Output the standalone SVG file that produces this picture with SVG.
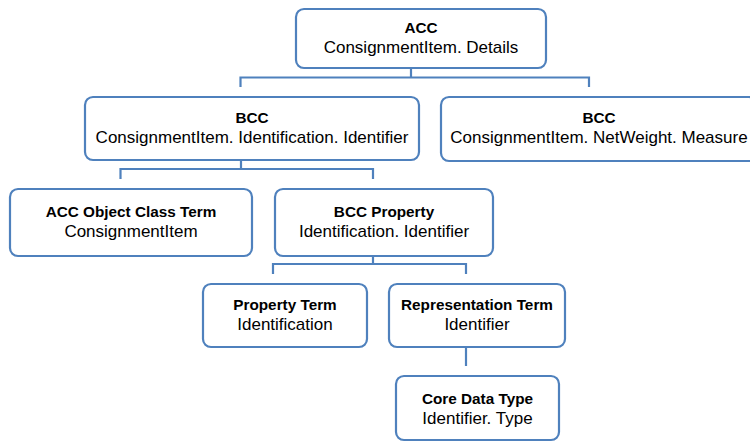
<svg xmlns="http://www.w3.org/2000/svg" width="750" height="443" viewBox="0 0 750 443">
<style>
.box{fill:#fff;stroke:#4f81bd;stroke-width:2.2}
.conn{fill:none;stroke:#4f81bd;stroke-width:2.2}
text{font-family:"Liberation Sans","Noto Sans",sans-serif;font-size:17px;fill:#000;text-anchor:middle}
.t{font-weight:bold;font-size:15.3px}
</style>
<rect width="750" height="443" fill="#fff"/>
<g id="connectors">
<path class="conn" d="M411 68V77.5M240.5 87V77.5H589V87"/>
<path class="conn" d="M241 160V169M120.5 179V169H373V179"/>
<path class="conn" d="M373 256V264M273 274V264H466V274"/>
<path class="conn" d="M466 347V366"/>
</g>
<g id="acc">
<rect class="box" x="296" y="9" width="250" height="59" rx="8"/>
<text class="t" x="421" y="33">ACC</text>
<text x="421" y="53">ConsignmentItem. Details</text>
</g>
<g id="bcc1">
<rect class="box" x="85" y="97" width="334" height="63" rx="8"/>
<text class="t" x="252" y="123">BCC</text>
<text x="252" y="143">ConsignmentItem. Identification. Identifier</text>
</g>
<g id="bcc2">
<rect class="box" x="441" y="97" width="316" height="64" rx="8"/>
<text class="t" x="599" y="123">BCC</text>
<text x="599" y="143">ConsignmentItem. NetWeight. Measure</text>
</g>
<g id="objclass">
<rect class="box" x="10" y="189" width="242" height="67" rx="8"/>
<text class="t" x="131" y="217">ACC Object Class Term</text>
<text x="131" y="237">ConsignmentItem</text>
</g>
<g id="bccprop">
<rect class="box" x="275" y="189" width="218" height="67" rx="8"/>
<text class="t" x="384" y="217">BCC Property</text>
<text x="384" y="237">Identification. Identifier</text>
</g>
<g id="propterm">
<rect class="box" x="203" y="284" width="164" height="63" rx="8"/>
<text class="t" x="285" y="310">Property Term</text>
<text x="285" y="330">Identification</text>
</g>
<g id="repterm">
<rect class="box" x="389" y="284" width="176" height="63" rx="8"/>
<text class="t" x="477" y="310">Representation Term</text>
<text x="477" y="330">Identifier</text>
</g>
<g id="cdt">
<rect class="box" x="396" y="376" width="163" height="64" rx="8"/>
<text class="t" x="477.5" y="404">Core Data Type</text>
<text x="477.5" y="424">Identifier. Type</text>
</g>
</svg>
